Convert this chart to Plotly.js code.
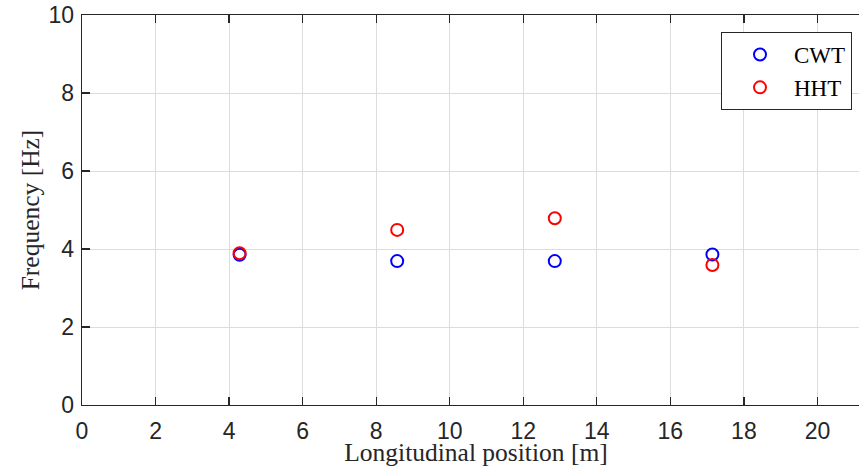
<!DOCTYPE html>
<html>
<head>
<meta charset="utf-8">
<script src="https://cdn.plot.ly/plotly-3.0.1.min.js"></script>
<style>html,body{margin:0;padding:0;overflow:hidden;background:#fff;}</style>
</head>
<body>
<div id="chart" style="width:870px;height:467px;"></div>
<script>
const positions = [4.286, 8.571, 12.857, 17.143];
const cwtFreq = [3.85, 3.69, 3.69, 3.86];
const hhtFreq = [3.89, 4.49, 4.79, 3.59];
const xTicks = [0, 2, 4, 6, 8, 10, 12, 14, 16, 18, 20];
const yTicks = [0, 2, 4, 6, 8, 10];

const traces = [
  {x: positions, y: cwtFreq, name: 'CWT', type: 'scatter', mode: 'markers',
   marker: {symbol: 'circle-open', size: 12, color: '#0000ff', line: {width: 2, color: '#0000ff'}}},
  {x: positions, y: hhtFreq, name: 'HHT', type: 'scatter', mode: 'markers',
   marker: {symbol: 'circle-open', size: 12, color: '#ff0000', line: {width: 2, color: '#ff0000'}}}
];

const axisCommon = {
  showline: true, linecolor: '#262626', linewidth: 1.3, mirror: 'ticks',
  ticks: 'inside', ticklen: 8, tickwidth: 1.3, tickcolor: '#262626',
  showgrid: true, gridcolor: '#dcdcdc', gridwidth: 1, zeroline: false,
  tickfont: {family: 'Liberation Sans, Arial, sans-serif', size: 23, color: '#262626'}
};

const layout = {
  width: 870, height: 467,
  margin: {l: 82, r: 0, t: 15, b: 62},
  paper_bgcolor: '#ffffff', plot_bgcolor: '#ffffff',
  showlegend: true,
  xaxis: Object.assign({}, axisCommon, {
    range: [0, 150/7], tickmode: 'array', tickvals: xTicks, ticktext: xTicks.map(String),
    ticklabelstandoff: 5,
    title: {text: 'Longitudinal position [m]', standoff: 6,
            font: {family: 'Liberation Serif, Times New Roman, serif', size: 25.5, color: '#262626'}}
  }),
  yaxis: Object.assign({}, axisCommon, {
    range: [0, 10], tickmode: 'array', tickvals: yTicks, ticktext: yTicks.map(String),
    ticklabelstandoff: 2,
    title: {text: 'Frequency [Hz]', standoff: 1,
            font: {family: 'Liberation Serif, Times New Roman, serif', size: 25.5, color: '#262626'}}
  }),
  legend: {
    x: (852-82)/788, xref: 'paper', xanchor: 'right', y: (405-32)/390, yanchor: 'top',
    bgcolor: '#ffffff', bordercolor: '#262626', borderwidth: 1,
    indentation: 4, itemwidth: 58, tracegroupgap: 0,
    font: {family: 'Liberation Serif, Times New Roman, serif', size: 23, color: '#000000'}
  }
};

Plotly.newPlot('chart', traces, layout, {displayModeBar: false, staticPlot: true});
</script>
</body>
</html>
